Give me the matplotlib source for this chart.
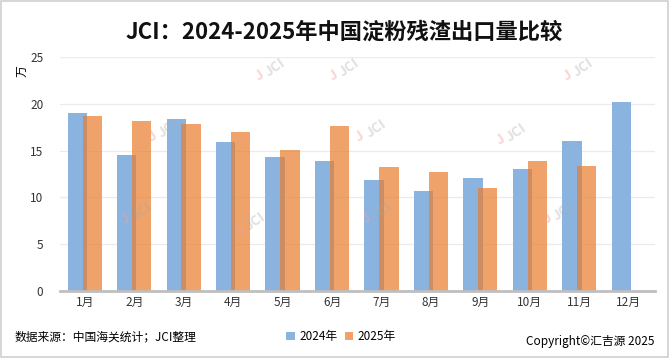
import numpy as np
from matplotlib import pyplot as plt
from matplotlib.patches import Rectangle

plt.rcParams['font.family'] = ['Noto Sans CJK SC', 'DejaVu Sans']

# 数据
months = ["1月", "2月", "3月", "4月", "5月", "6月", "7月", "8月", "9月", "10月", "11月", "12月"]
y2024 = [19.0, 14.55, 18.4, 15.9, 14.3, 13.9, 11.87, 10.7, 12.08, 13.05, 16.04, 20.2]
y2025 = [18.7, 18.2, 17.86, 17.0, 15.1, 17.65, 13.26, 12.73, 11.0, 13.9, 13.37]

fig = plt.figure(figsize=(6.69, 3.58), dpi=100)
ax = fig.add_axes([0.0897, 0.187, 0.8893, 0.654])

x = np.arange(len(months))
ax.bar(x - 0.15, y2024, width=0.39, color='#8AB4DF', label='2024年', zorder=2)
ax.bar(x[:len(y2025)] + 0.15, y2025, width=0.39, color='#E97D2D', alpha=0.7,
       label='2025年', zorder=3)

ax.set_xlim(-0.5, 11.53)
ax.set_ylim(0, 25)
ax.set_yticks([0, 5, 10, 15, 20, 25])
ax.set_xticks(x)
ax.set_xticklabels(months)
ax.tick_params(length=0, labelsize=8.5, colors='#333333')
ax.tick_params(axis='y', pad=12)
ax.grid(axis='y', color='#EBEBEB', linewidth=0.9, zorder=0)
for s in ['top', 'right', 'left']:
    ax.spines[s].set_visible(False)
ax.spines['bottom'].set_color('#BFBFBF')
ax.spines['bottom'].set_linewidth(2)
ax.spines['bottom'].set_zorder(4)

# 水印
marks = [(0.40, 0.80), (0.51, 0.80), (0.86, 0.80), (0.24, 0.63), (0.55, 0.63),
         (0.76, 0.62), (0.20, 0.40), (0.37, 0.37), (0.56, 0.40), (0.83, 0.40)]
for mx, my in marks:
    fig.text(mx - 0.012, my - 0.01, "J", color='#F4A0A0', alpha=0.45, fontsize=10,
             rotation=35, ha='center', va='center', fontweight='bold')
    fig.text(mx + 0.012, my + 0.01, "JCI", color='#A8A8A8', alpha=0.35, fontsize=10,
             rotation=35, ha='center', va='center', fontweight='bold')

# 标题和说明
fig.text(0.515, 0.91, "JCI：2024-2025年中国淀粉残渣出口量比较", ha='center', va='center',
         fontsize=16, fontweight='bold', color='#111111')
fig.text(0.033, 0.80, "万", rotation=90, ha='center', va='center', fontsize=8.5)
fig.text(0.022, 0.058, "数据来源：中国海关统计；JCI整理", ha='left', va='center', fontsize=8.5)
fig.text(0.978, 0.045, "Copyright©汇吉源 2025", ha='right', va='center', fontsize=8.5)
fig.legend(loc='center', bbox_to_anchor=(0.51, 0.06), ncol=2, frameon=False,
           fontsize=8.5, handlelength=0.7, handleheight=0.7, columnspacing=0.6,
           handletextpad=0.4)

fig.patches.append(Rectangle((0.002, 0.003), 0.996, 0.994, transform=fig.transFigure,
                             fill=False, edgecolor='#D0D0D0', linewidth=1.2))

plt.savefig('out.png', dpi=100)
